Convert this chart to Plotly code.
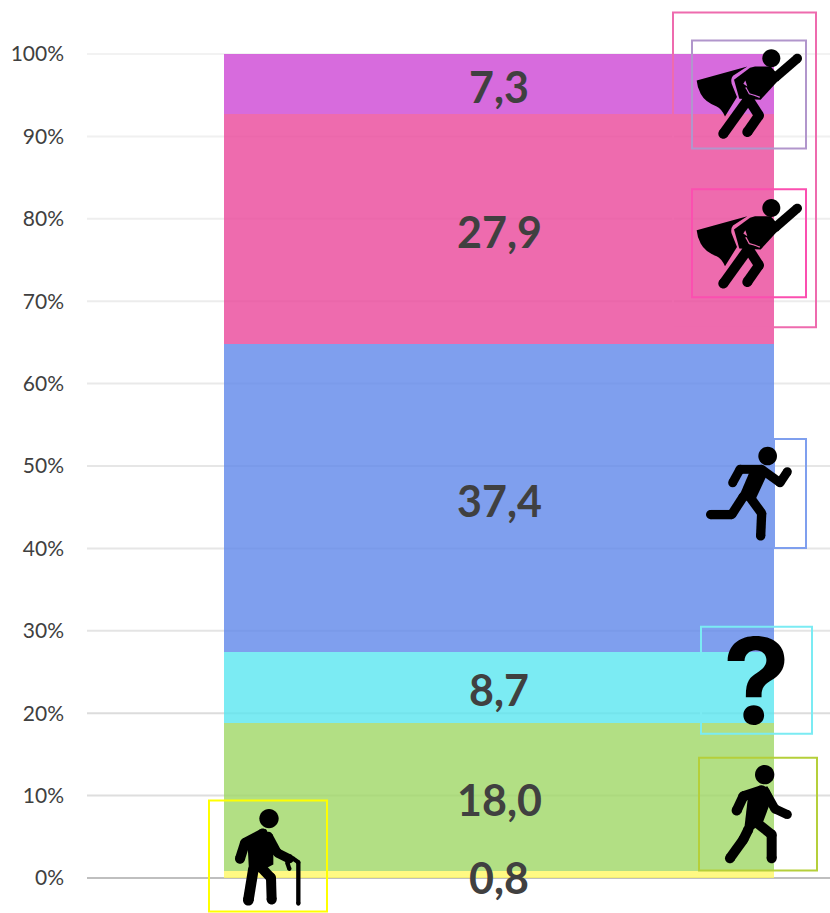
import plotly.graph_objects as go

categories = ["0,8", "18,0", "8,7", "37,4", "27,9", "7,3"]
values = [0.8, 18.0, 8.7, 37.4, 27.9, 7.3]
colors = ["rgba(255,247,100,0.8)", "rgba(159,215,101,0.8)", "rgba(90,230,240,0.8)",
          "rgba(95,135,234,0.8)", "rgba(234,70,154,0.8)", "rgba(205,70,213,0.8)"]
ticks = list(range(0, 101, 10))
tick_labels = [f"{t}%" for t in ticks]
grid_colors = ["#BFBFBF", "#DEDEDE", "#DCDCDC", "#E4E4E4", "#E6E6E6", "#E6E6E6",
               "#E9E9E9", "#ECECEC", "#EEEEEE", "#F0F0F0", "#F2F2F2"]

L, R, T, B = 87, 830, 53.5, 878.5
PW, PH = R - L, B - T
BAR_X, BAR_W = 499, 550

fig = go.Figure()
scale = 100 / sum(values)
for lab, v, c in zip(categories, values, colors):
    fig.add_bar(x=[BAR_X], y=[v], width=[BAR_W], marker=dict(color=c, line=dict(width=0)),
                showlegend=False, hoverinfo="skip")

shapes, annos = [], []
for t, c in zip(ticks, grid_colors):
    shapes.append(dict(type="line", xref="paper", yref="paper", x0=0, x1=1, y0=t / 100, y1=t / 100,
                       line=dict(color=c, width=2), layer="below"))

cum = 0
for lab, v in zip(categories, values):
    mid = (cum + v / 2) * scale
    cum += v
    annos.append(dict(x=BAR_X, y=mid, xref="x", yref="y", text=lab, showarrow=False, yshift=-2.5,
                      font=dict(family="Lato", size=43, color="#404040", weight="bold")))


def X(px):
    return (px - L) / PW


def Y(py):
    return (B - py) / PH


def frame(x0, y0, x1, y1, col):
    shapes.append(dict(type="rect", xref="paper", yref="paper", x0=X(x0), x1=X(x1), y0=Y(y0), y1=Y(y1),
                       line=dict(color=col, width=2), fillcolor="rgba(0,0,0,0)"))


class Icon:
    """Black pictogram drawn in the coordinates of a 3x crop starting at (ox, oy)."""

    def __init__(self, ox, oy):
        self.ox, self.oy = ox, oy

    def p(self, zx, zy):
        return f"{X(self.ox + zx / 3):.5f},{Y(self.oy + zy / 3):.5f}"

    def add(self, d, fill="#000000"):
        shapes.append(dict(type="path", xref="paper", yref="paper", path=d, fillcolor=fill,
                           line=dict(width=0), layer="above"))

    def circle(self, cx, cy, r, fill="#000000"):
        k = 0.5523 * r
        p = self.p
        self.add(f"M{p(cx + r, cy)} C{p(cx + r, cy + k)} {p(cx + k, cy + r)} {p(cx, cy + r)} "
                 f"C{p(cx - k, cy + r)} {p(cx - r, cy + k)} {p(cx - r, cy)} "
                 f"C{p(cx - r, cy - k)} {p(cx - k, cy - r)} {p(cx, cy - r)} "
                 f"C{p(cx + k, cy - r)} {p(cx + r, cy - k)} {p(cx + r, cy)} Z", fill)

    def poly(self, pts, fill="#000000"):
        self.add("M" + " L".join(self.p(*q) for q in pts) + " Z", fill)

    def limb(self, pts, w, fill="#000000"):
        for (x0, y0), (x1, y1) in zip(pts, pts[1:]):
            dx, dy = x1 - x0, y1 - y0
            n = (dx * dx + dy * dy) ** 0.5 or 1
            ux, uy = -dy / n * w / 2, dx / n * w / 2
            self.poly([(x0 + ux, y0 + uy), (x1 + ux, y1 + uy), (x1 - ux, y1 - uy), (x0 - ux, y0 - uy)], fill)
        for q in pts:
            self.circle(q[0], q[1], w / 2, fill)


def superhero(ox, oy, bg):
    ic = Icon(ox, oy)
    ic.circle(334, 173, 27)
    p = ic.p
    ic.add(f"M{p(110, 240)} L{p(262, 198)} L{p(219, 226)} Q{p(211, 236)} {p(215, 250)} L{p(231, 290)} "
           f"L{p(195, 348)} Q{p(185, 325)} {p(170, 318)} Q{p(135, 305)} {p(122, 280)} Q{p(112, 262)} {p(110, 240)} Z")
    ic.poly([(222, 238), (270, 202), (285, 198), (332, 198), (345, 212), (350, 245), (302, 298), (238, 295)])
    ic.limb([(345, 232), (412, 174)], 28)
    ic.limb([(262, 300), (190, 400)], 30)
    ic.limb([(268, 300), (297, 345), (262, 395)], 30)
    ic.poly([(256, 240), (262, 258), (250, 250)], bg)
    ic.limb([(258, 262), (268, 280), (285, 285), (298, 290)], 3.5, bg)


def runner(ox, oy):
    ic = Icon(ox, oy)
    ic.circle(263, 78, 28)
    ic.limb([(158, 158), (180, 118), (245, 118), (300, 158), (322, 125)], 27)
    ic.poly([(212, 118), (262, 132), (225, 212), (172, 212)])
    ic.limb([(205, 195), (245, 250), (242, 318)], 28)
    ic.limb([(190, 200), (155, 254), (92, 254)], 28)


def walker(ox, oy):
    ic = Icon(ox, oy)
    ic.circle(254, 75, 29)
    ic.limb([(170, 183), (190, 140), (245, 122)], 30)
    ic.limb([(255, 125), (285, 178), (322, 195)], 27)
    ic.poly([(205, 132), (262, 110), (278, 140), (250, 215), (220, 240), (190, 262)])
    ic.limb([(205, 240), (190, 270), (150, 326)], 30)
    ic.limb([(225, 215), (275, 255), (275, 326)], 30)


def elder(ox, oy):
    ic = Icon(ox, oy)
    ic.circle(237, 207, 29)
    ic.limb([(150, 328), (165, 280), (218, 252)], 30)
    ic.limb([(235, 260), (262, 310), (298, 328)], 27)
    ic.poly([(172, 268), (228, 238), (250, 290), (250, 345), (205, 368), (178, 385)])
    ic.limb([(190, 360), (175, 452)], 32)
    ic.limb([(205, 345), (243, 385), (245, 450)], 30)
    ic.limb([(325, 462), (325, 338), (308, 326), (292, 340), (298, 358)], 13)


frame(673, 12, 816, 327, "#EE6BAE")
frame(692, 40, 806, 148, "#B196CC")
frame(692, 189, 806, 297, "#FB4FB0")
frame(774, 439, 806, 548, "#7F9FEE")
frame(701, 627, 812, 734, "#7BEBF3")
frame(699, 758, 817, 871, "#B5CF3A")
frame(209, 801, 327, 912, "#FFFF00")

superhero(660, 0, "#D76BDD")
superhero(660, 150, "#EE6BAE")
runner(680, 430)
walker(680, 750)
elder(190, 750)

annos.append(dict(x=X(756), y=Y(681), xref="paper", yref="paper", text="?", showarrow=False,
                  xanchor="center", yanchor="middle",
                  font=dict(family="Inter", size=120, color="#000000", weight="bold")))

fig.update_layout(
    width=830, height=913, autosize=False, barmode="stack", barnorm="percent",
    margin=dict(l=L, r=0, t=T, b=913 - B, pad=0),
    paper_bgcolor="#FFFFFF", plot_bgcolor="rgba(0,0,0,0)",
    shapes=shapes, annotations=annos,
    xaxis=dict(range=[L, R], visible=False, showgrid=False, zeroline=False),
    yaxis=dict(range=[0, 100], tickvals=ticks, ticktext=tick_labels, showgrid=False,
               zeroline=False, showline=False, ticks="", ticklabelstandoff=22,
               tickfont=dict(family="Lato", size=21, color="#404040")),
)
fig.write_html("out.html", config={"displayModeBar": False},
               post_script="document.body.style.margin='0';")
